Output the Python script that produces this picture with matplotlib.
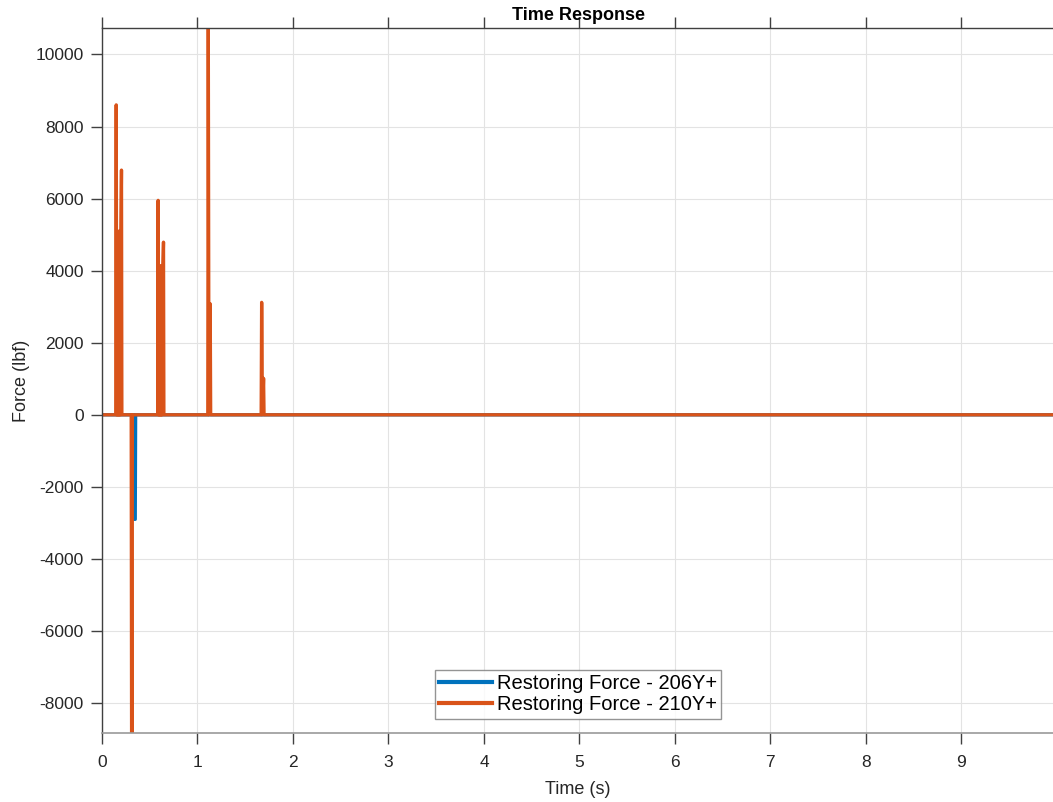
import matplotlib
matplotlib.use("Agg")
import matplotlib.pyplot as plt

plt.rcParams["font.family"] = ["Liberation Sans", "DejaVu Sans"]
plt.rcParams["axes.unicode_minus"] = False

# Restoring Force - 206Y+ (blue)
t_206 = [0.0, 0.334, 0.338, 0.348, 0.352, 9.96]
f_206 = [0.0, 0.0, -2900, -2900, 0.0, 0.0]

# Restoring Force - 210Y+ (orange)
t_210 = [0.0, 0.144, 0.149, 0.154, 0.158, 0.162, 0.166, 0.170, 0.174, 0.178, 0.182,
         0.186, 0.190, 0.194, 0.198, 0.204, 0.208,
         0.306, 0.310, 0.315, 0.318,
         0.583, 0.588, 0.593, 0.597, 0.601, 0.605, 0.609, 0.613, 0.617, 0.621,
         0.625, 0.629, 0.633, 0.638, 0.644, 0.648,
         1.108, 1.113, 1.120, 1.133, 1.138,
         1.667, 1.672, 1.680, 1.692, 1.697,
         9.96]
f_210 = [0.0, 0.0, 8600, 0.0, 5090, 0.0, 5090, 0.0, 5090, 0.0, 5090,
         0.0, 5090, 0.0, 5090, 6790, 0.0,
         0.0, -8830, -8830, 0.0,
         0.0, 5950, 0.0, 2700, 0.0, 2700, 0.0, 2700, 0.0, 4140,
         0.0, 4140, 0.0, 4140, 4790, 0.0,
         0.0, 10720, 0.0, 3080, 0.0,
         0.0, 3120, 0.0, 1010, 0.0,
         0.0]

xticks = list(range(0, 10))
yticks = list(range(-8000, 10001, 2000))

fig = plt.figure(figsize=(10.53, 8.02), dpi=100)
ax = fig.add_axes([102/1053, 1 - 733/802, 952/1053, (733 - 28.5)/802])

ax.plot(t_206, f_206, color="#0072BD", lw=2.4, label="Restoring Force - 206Y+")
ax.plot(t_210, f_210, color="#D95319", lw=2.4, label="Restoring Force - 210Y+")

ax.set_xlim(0, 9.97)
ax.set_ylim(-8830, 10720)
ax.set_xticks(xticks)
ax.set_yticks(yticks)
ax.grid(True, color="#e3e3e3", lw=0.8)
ax.set_axisbelow(True)

for s in ["left", "top"]:
    ax.spines[s].set_color("#404040")
    ax.spines[s].set_linewidth(1.0)
ax.spines["bottom"].set_color("#9a9a9a")
ax.spines["bottom"].set_linewidth(1.2)
ax.spines["right"].set_visible(False)

ax.tick_params(axis="both", direction="out", length=8, width=1, colors="#404040",
               labelsize=12.5, labelcolor="#262626")
ax.tick_params(axis="x", top=True, pad=8)
ax.tick_params(axis="y", pad=5)

ax.set_xlabel("Time (s)", fontsize=13, color="#262626", labelpad=8)
ax.set_ylabel("Force (lbf)", fontsize=13, color="#262626", labelpad=4)
ax.set_title("Time Response", fontsize=13, fontweight="bold", pad=6)

leg = ax.legend(loc="lower center", bbox_to_anchor=(0.5, 0.0), fontsize=14.5,
                frameon=True, fancybox=False, edgecolor="#7a7a7a",
                handlelength=2.6, borderpad=0.22, labelspacing=0.12,
                handletextpad=0.25, borderaxespad=0.7)
leg.get_frame().set_linewidth(1.0)
for h in leg.get_lines():
    h.set_linewidth(3)

fig.savefig("out.png", dpi=100)
